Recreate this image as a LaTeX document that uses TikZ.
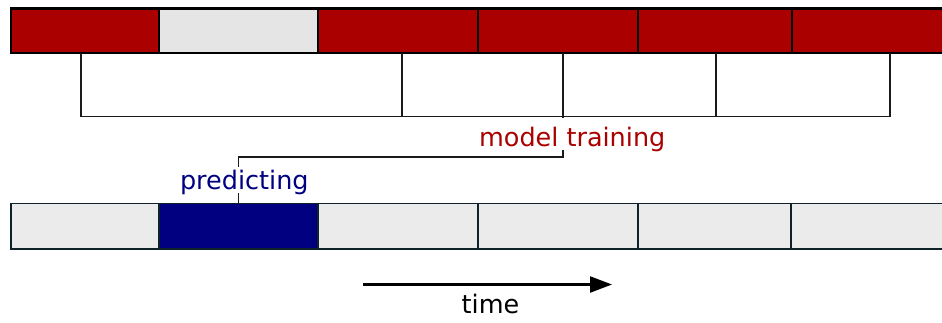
\documentclass[tikz,border=0pt]{standalone}
\usepackage{fontspec}
\setmainfont{DejaVu Sans}
\usetikzlibrary{arrows.meta}

\definecolor{barred}{HTML}{AA0000}
\definecolor{topgrey}{HTML}{E5E5E5}
\definecolor{lowgrey}{HTML}{EBEBEB}
\definecolor{predblue}{HTML}{000080}
\definecolor{lowedge}{HTML}{0E2229}
\definecolor{wire}{HTML}{1A1A1A}

\begin{document}
\begin{tikzpicture}[x=1pt,y=-1pt,
  topcell/.style={rectangle, draw=black, line width=2.2pt, fill=barred,
    inner sep=0pt, outer sep=0pt, anchor=north west, minimum height=44.5pt},
  lowcell/.style={rectangle, draw=lowedge, line width=1.6pt, fill=lowgrey,
    inner sep=0pt, outer sep=0pt, anchor=north west, minimum height=45.5pt},
  wireline/.style={draw=wire, line width=1.3pt},
  tag/.style={fill=white, inner xsep=1pt, inner ysep=0pt, anchor=base,
    font=\fontsize{25.5}{30}\selectfont},
]
\useasboundingbox (0,0) rectangle (942,322);

% upper row of blocks (training windows)
\node[topcell, minimum width=148pt] (t1) at (11,8.5) {};
\node[topcell, minimum width=159pt, fill=topgrey] (t2) at (159,8.5) {};
\node[topcell, minimum width=160pt] (t3) at (318,8.5) {};
\node[topcell, minimum width=160pt] (t4) at (478,8.5) {};
\node[topcell, minimum width=154pt] (t5) at (638,8.5) {};
\node[topcell, minimum width=170pt] (t6) at (792,8.5) {};

% lower row of blocks (prediction step)
\node[lowcell, minimum width=148pt] (b1) at (11,203.5) {};
\node[lowcell, minimum width=159pt, fill=predblue] (b2) at (159,203.5) {};
\node[lowcell, minimum width=160pt] (b3) at (318,203.5) {};
\node[lowcell, minimum width=160pt] (b4) at (478,203.5) {};
\node[lowcell, minimum width=153pt] (b5) at (638,203.5) {};
\node[lowcell, minimum width=171pt] (b6) at (791,203.5) {};

% bracket hanging below the upper row
\coordinate (k1) at (81,53);
\coordinate (k2) at (402,53);
\coordinate (k3) at (563,53);
\coordinate (k4) at (716,53);
\coordinate (k5) at (890,53);
\coordinate (elbow) at (563,157);

\draw[wireline] (k1) |- (890,116.5) -- (k5);
\draw[wireline] (k2) -- (k2 |- 0,116.5);
\draw[wireline] (k4) -- (k4 |- 0,116.5);
\draw[wireline] (k3) -- (elbow) -| (b2.north);

% labels drawn over the connector
\node[tag, text=barred, text height=29pt, text depth=3pt] (train) at (572.2,146.5) {model training};
\node[tag, text=predblue, text height=22.6pt, text depth=4pt] (pred) at (244.3,189.3) {predicting};

% time axis
\coordinate (tstart) at (363,284.5);
\coordinate (tend) at (612,284.5);
\draw[line width=2.3pt, -{Triangle[length=22pt,width=16pt]}] (tstart) -- (tend);
\node[tag, fill=none] (time) at (490.5,313.3) {time};
\end{tikzpicture}
\end{document}
